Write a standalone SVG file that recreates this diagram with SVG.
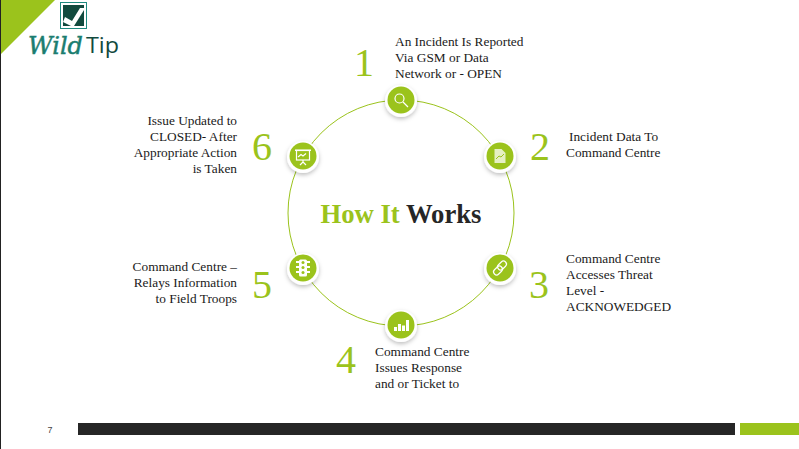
<svg xmlns="http://www.w3.org/2000/svg" width="799" height="449" viewBox="0 0 799 449">
<defs>
<filter id="sh" x="-30%" y="-30%" width="160%" height="170%"><feDropShadow dx="0" dy="2" stdDeviation="2" flood-color="#000" flood-opacity="0.25"/></filter>
</defs>
<style>
.t{font-family:"Liberation Serif",serif;font-size:13.33px;fill:#1a1a1a}
.n{font-family:"Liberation Serif",serif;font-size:40px;fill:#9bc31c}
.ic{fill:none;stroke:#fff;stroke-width:1.2}
.w{fill:#fff}
.halo{fill:#fff;filter:url(#sh)}
.disc{fill:#9bc31c}
</style>
<rect width="799" height="449" fill="#fff"/>
<rect x="0" y="0" width="1" height="449" fill="#222"/>
<polygon points="1,0 55,0 1,54" fill="#9bc31c"/>
<g id="logo">
<rect x="60.500" y="2.500" width="26" height="26" fill="#fff" stroke="#1f8a80"/>
<rect x="63" y="5" width="21" height="21" fill="#124a3e"/>
<polygon points="64,6 83,6 73.500,17" fill="#124a3e"/>
<polygon points="65,17 72,21 80,8 84,8 84,10 74,26 71,26 63,22" fill="#fff"/>
<polygon points="75,26 84,12 84,26" fill="#124a3e"/>
<text x="28" y="54" font-family="'DejaVu Serif',serif" font-style="italic" font-size="25" textLength="55" lengthAdjust="spacingAndGlyphs" fill="#1b7d70" stroke="#1b7d70" stroke-width="0.500">Wild</text>
<text x="86" y="53" font-family="'Open Sans',sans-serif" font-size="22" textLength="33" lengthAdjust="spacingAndGlyphs" fill="#124a3e">Tip</text>
</g>
<g id="connectors">
<circle cx="401" cy="213" r="113" fill="none" stroke="#9bc31c" stroke-width="1"/>
</g>
<g id="node1"><circle class="halo" cx="401" cy="101" r="16"/><circle class="disc" cx="401" cy="100" r="13.500"/>
<circle class="ic" cx="399.500" cy="98.500" r="4.500"/><line class="ic" x1="403" y1="102" x2="408" y2="107"/></g>
<g id="node2"><circle class="halo" cx="500" cy="157" r="16"/><circle class="disc" cx="500" cy="156" r="13.500"/>
<path fill="#e6f0c4" d="M494.500 149h7l4 4v10h-11z"/><path d="M496 159l3-3 2 1 3-3" fill="none" stroke="#9bc31c"/></g>
<g id="node3"><circle class="halo" cx="500" cy="269" r="16"/><circle class="disc" cx="500" cy="268" r="13.500"/>
<rect class="ic" x="499" y="260.500" width="6" height="10" rx="3" transform="rotate(45 502 265.500)"/>
<rect class="ic" x="495" y="265.500" width="6" height="10" rx="3" transform="rotate(45 498 270.500)"/></g>
<g id="node4"><circle class="halo" cx="401" cy="326" r="16"/><circle class="disc" cx="401" cy="325" r="13.500"/>
<rect class="w" x="394" y="327" width="3" height="4"/><rect class="w" x="398" y="324" width="3" height="7"/><rect class="w" x="402" y="325.500" width="3" height="5.500"/><rect class="w" x="406" y="320" width="3" height="11"/></g>
<g id="node5"><circle class="halo" cx="303" cy="269" r="16"/><circle class="disc" cx="303" cy="268" r="13.500"/>
<rect class="w" x="299" y="259.500" width="8" height="17" rx="1.500"/><rect class="w" x="296" y="261" width="14" height="2"/><rect class="w" x="296" y="266" width="14" height="2"/><rect class="w" x="296" y="271" width="14" height="2"/>
<circle class="disc" cx="303" cy="262.500" r="1.500"/><circle class="disc" cx="303" cy="267.500" r="1.500"/><circle class="disc" cx="303" cy="272.500" r="1.500"/></g>
<g id="node6"><circle class="halo" cx="303" cy="157" r="16"/><circle class="disc" cx="303" cy="156" r="13.500"/>
<rect class="ic" x="296.500" y="150.500" width="13" height="9.500" stroke-width="1"/><rect class="w" x="295" y="149.500" width="16" height="1.500"/><path class="ic" d="M298 157l3-2.500 2 1.500 3-2.500M303 160v2.500M303 162l-3 3M303 162l3 3" stroke-width="0.900"/></g>

<text class="n" x="364" y="76" text-anchor="middle">1</text>
<text class="n" x="540" y="160" text-anchor="middle">2</text>
<text class="n" x="539" y="298" text-anchor="middle">3</text>
<text class="n" x="346" y="373" text-anchor="middle">4</text>
<text class="n" x="262" y="298" text-anchor="middle">5</text>
<text class="n" x="262" y="160" text-anchor="middle">6</text>

<text class="t" x="395" y="46">An Incident Is Reported</text>
<text class="t" x="395" y="62">Via GSM or Data</text>
<text class="t" x="395" y="78">Network or - OPEN</text>
<text class="t" x="569" y="141">Incident Data To</text>
<text class="t" x="566" y="157">Command Centre</text>
<text class="t" x="566" y="263">Command Centre</text>
<text class="t" x="566" y="279">Accesses Threat</text>
<text class="t" x="566" y="295">Level -</text>
<text class="t" x="566" y="311">ACKNOWEDGED</text>
<text class="t" x="375" y="356">Command Centre</text>
<text class="t" x="375" y="372">Issues Response</text>
<text class="t" x="375" y="388">and or Ticket to</text>
<g text-anchor="end">
<text class="t" x="237" y="271">Command Centre –</text>
<text class="t" x="237" y="287">Relays Information</text>
<text class="t" x="237" y="303">to Field Troops</text>
<text class="t" x="237" y="125">Issue Updated to</text>
<text class="t" x="237" y="141">CLOSED- After</text>
<text class="t" x="237" y="157">Appropriate Action</text>
<text class="t" x="237" y="173">is Taken</text>
</g>
<text x="401" y="223" text-anchor="middle" font-family="'Liberation Serif',serif" font-weight="bold" font-size="26.670"><tspan fill="#9bc31c">How It </tspan><tspan fill="#262626">Works</tspan></text>
<text x="50" y="433" text-anchor="middle" font-family="'Liberation Sans',sans-serif" font-size="9" fill="#444">7</text>
<rect x="78" y="423" width="657" height="12" fill="#262626"/>
<rect x="740" y="423" width="59" height="12" fill="#9bc31c"/>
</svg>
